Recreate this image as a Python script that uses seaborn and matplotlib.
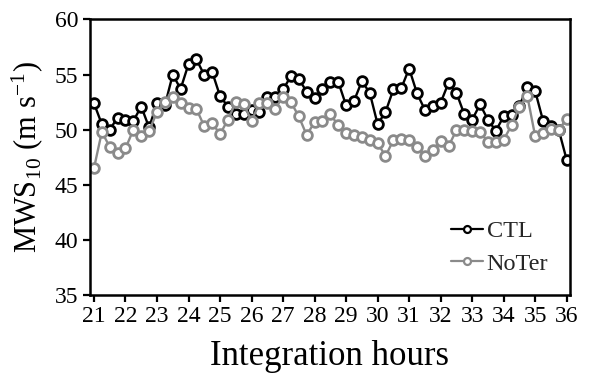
import numpy as np
import pandas as pd
import matplotlib
matplotlib.use("Agg")
import matplotlib.pyplot as plt
import seaborn as sns
from matplotlib.lines import Line2D

hours = [21 + 0.25 * i for i in range(61)]
ctl = [52.4, 50.5, 50.0, 51.1, 50.9, 50.8, 52.1, 50.2, 52.4, 52.2,
       55.0, 53.7, 55.95, 56.4, 54.95, 55.25, 53.05, 52.1, 51.4, 51.45,
       51.8, 51.65, 53.0, 52.95, 53.65, 54.85, 54.6, 53.45, 52.85, 53.65,
       54.35, 54.35, 52.2, 52.6, 54.4, 53.35, 50.5, 51.6, 53.65, 53.75,
       55.55, 53.3, 51.8, 52.15, 52.45, 54.25, 53.35, 51.4, 50.9, 52.3,
       50.9, 49.9, 51.2, 51.3, 52.15, 53.9, 53.5, 50.8, 50.3, 49.95,
       47.25]
noter = [46.5, 49.8, 48.45, 47.9, 48.3, 50.0, 49.4, 49.9, 51.6, 52.5,
         53.0, 52.4, 52.0, 51.9, 50.3, 50.6, 49.6, 50.9, 52.5, 52.35,
         50.8, 52.4, 52.4, 51.9, 53.0, 52.5, 51.2, 49.5, 50.7, 50.8,
         51.4, 50.4, 49.7, 49.5, 49.3, 49.1, 48.8, 47.6, 49.05, 49.2,
         49.05, 48.45, 47.6, 48.2, 49.0, 48.5, 49.95, 50.0, 49.9, 49.8,
         48.9, 48.9, 49.1, 50.4, 52.1, 53.05, 49.4, 49.7, 50.1, 50.0,
         51.0]
series_names = ["CTL", "NoTer"]
xticks = list(range(21, 37))
yticks = [35, 40, 45, 50, 55, 60]

df = pd.DataFrame({
    "hour": hours * 2,
    "mws": ctl + noter,
    "run": ["CTL"] * len(hours) + ["NoTer"] * len(hours),
})

sns.set_theme(style="white")
plt.rcParams["font.family"] = ["Liberation Serif", "DejaVu Serif"]
plt.rcParams["mathtext.fontset"] = "stix"

fig = plt.figure(figsize=(5.93, 3.74), dpi=100)
ax = fig.add_axes([0.151, 0.211, 0.810, 0.737])

palette = {"CTL": "#000000", "NoTer": "#8a8a8a"}
sns.lineplot(data=df, x="hour", y="mws", hue="run", palette=palette,
             hue_order=series_names, marker="o", markersize=7,
             markerfacecolor="white", markeredgewidth=2.0, linewidth=1.7,
             ax=ax, legend=False)
for line, name in zip(ax.get_lines(), series_names):
    line.set_markeredgecolor(palette[name])

ax.set_xlim(20.86, 36.1)
ax.set_ylim(35, 60)
ax.set_xticks(xticks)
ax.set_xticklabels([str(t) for t in xticks])
ax.set_yticks(yticks)
ax.tick_params(axis="both", direction="out", length=5, width=1.6,
               labelsize=17, color="black", labelcolor="black", pad=3,
               bottom=True, left=True)
for sp in ax.spines.values():
    sp.set_color("black")
    sp.set_linewidth(1.8)

ax.set_xlabel("Integration hours", fontsize=25, color="black", labelpad=9)
ax.set_ylabel(r"MWS$_{\mathregular{10}}$ (m s$^{\mathregular{-1}}$)",
              fontsize=22, color="black", labelpad=6)

handles = [Line2D([], [], color=palette[n], marker="o", markersize=5,
                  markerfacecolor="white", markeredgecolor=palette[n],
                  markeredgewidth=1.6, linewidth=1.6) for n in series_names]
ax.legend(handles, series_names, loc="lower right", frameon=False,
          fontsize=17.5, handlelength=1.3, handletextpad=0.15,
          labelspacing=0.45, bbox_to_anchor=(0.985, 0.02),
          borderaxespad=0.2)

fig.savefig("out.png", dpi=100)
